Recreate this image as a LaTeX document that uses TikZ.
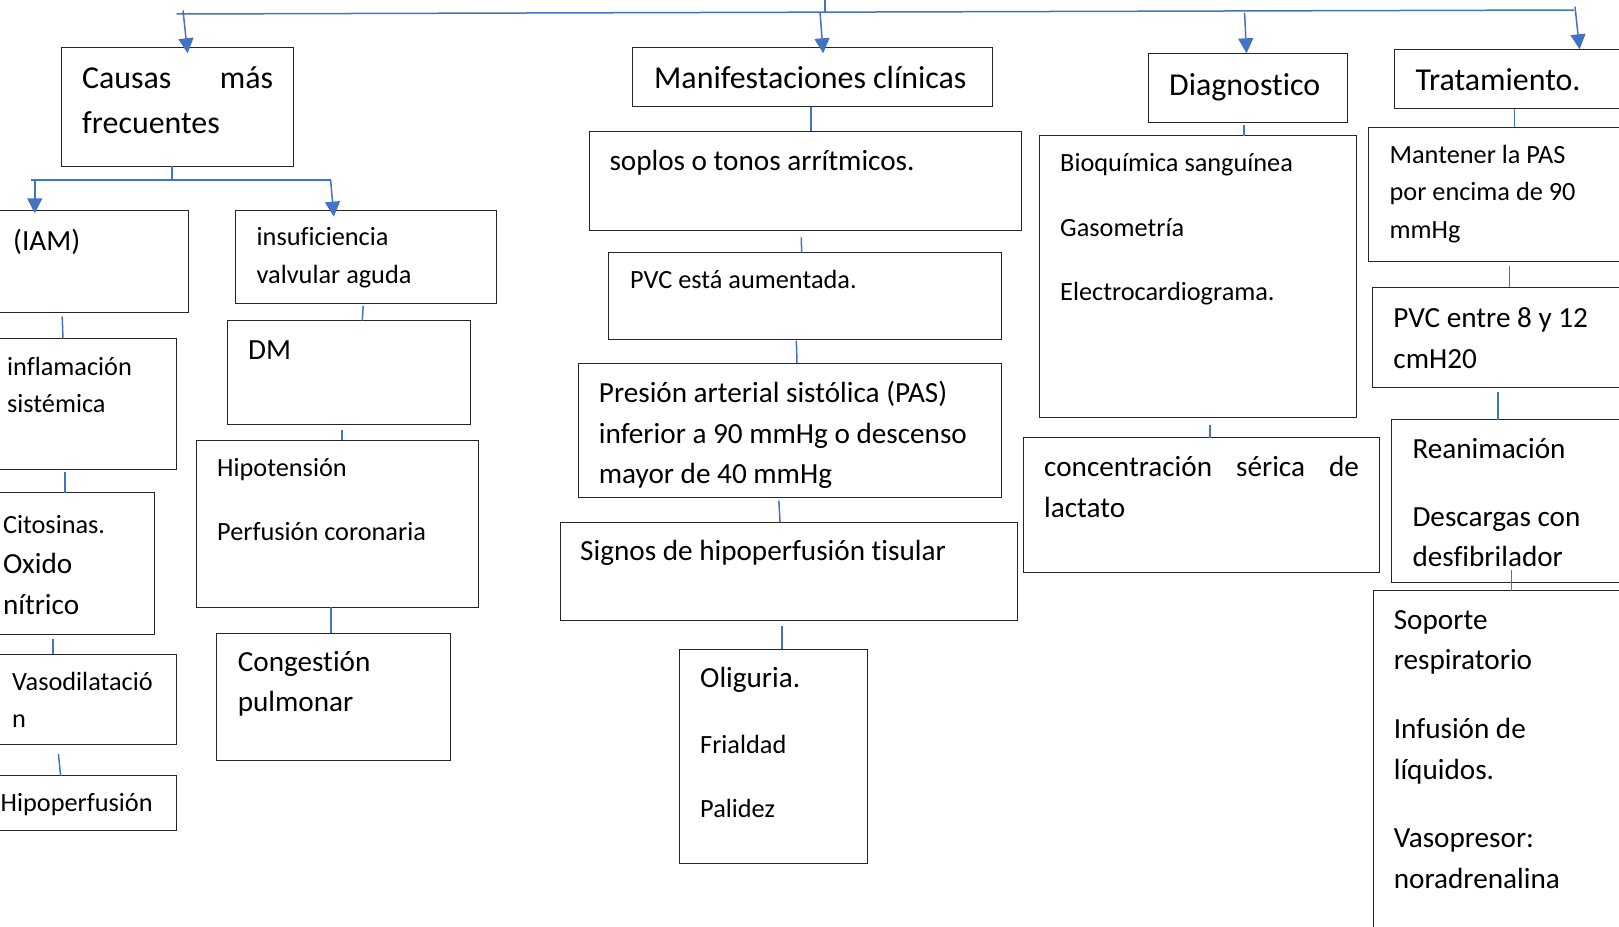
\documentclass[tikz,border=0pt]{standalone}
\usepackage{fontspec}
\setmainfont{Carlito}[Ligatures={NoCommon,NoContextual}, Contextuals={NoAlternate}]
\usetikzlibrary{arrows.meta}
\definecolor{wordblue}{RGB}{68,114,196}
\newcommand\fbig{\fontsize{31.9}{45}\selectfont}
\newcommand\fmed{\fontsize{29.2}{40.5}\selectfont}
\newcommand\fsmall{\fontsize{26.3}{37.5}\selectfont}

\begin{document}
\begin{tikzpicture}[x=1pt, y=-1pt,
    box/.style={draw=black!85, line width=1pt, anchor=north west, inner sep=0pt, outer sep=0pt},
    txt/.style={anchor=base west, align=left, inner sep=0pt},
    link/.style={draw=wordblue, line width=1.5pt, shorten <=4pt},
    arrow/.style={draw=wordblue, line width=1.5pt, -{Triangle[width=15pt,length=15pt]}}]
\clip (0,0) rectangle (1619,926);

% headings
\node[box, minimum width=232.1, minimum height=118.6] (causas) at (61.6,47.7) {};
\node[box, minimum width=359.6, minimum height=59.4] (manif) at (632.7,47.3) {};
\node[box, minimum width=199, minimum height=68.7] (diag) at (1148.3,53.3) {};
\node[box, minimum width=245.7, minimum height=59.4] (trat) at (1394.3,49.3) {};

% causas
\node[box, minimum width=198.7, minimum height=102] (iam) at (-10,210.7) {};
\node[box, minimum width=260.7, minimum height=92.6] (insuf) at (235.5,210.7) {};
\node[box, minimum width=186.7, minimum height=130.7] (inflam) at (-10,338.3) {};
\node[box, minimum width=243, minimum height=104] (dm) at (227,320.7) {};
\node[box, minimum width=282.4, minimum height=167.3] (hipot) at (196.3,440) {};
\node[box, minimum width=164.3, minimum height=141.3] (cito) at (-10,492.7) {};
\node[box, minimum width=234.2, minimum height=126.7] (cong) at (216.6,633.3) {};
\node[box, minimum width=186.7, minimum height=90.7] (vaso) at (-10,654) {};
\node[box, minimum width=186.3, minimum height=54.3] (hipop) at (-10,775.7) {};

% manifestaciones
\node[box, minimum width=432.7, minimum height=99.3] (soplos) at (589,131) {};
\node[box, minimum width=393, minimum height=86.3] (pvc) at (608.7,252.7) {};
\node[box, minimum width=423.7, minimum height=134.5] (presion) at (578,363.2) {};
\node[box, minimum width=457, minimum height=98.6] (signos) at (560.3,522) {};
\node[box, minimum width=187.3, minimum height=214.5] (olig) at (679.7,649.4) {};

% diagnostico
\node[box, minimum width=317.9, minimum height=282] (bioq) at (1039,135.7) {};
\node[box, minimum width=355.2, minimum height=134.9] (conc) at (1023.8,437.9) {};

% tratamiento
\node[box, minimum width=272, minimum height=134.7] (mant) at (1368,127) {};
\node[box, minimum width=267.8, minimum height=99.7] (pvce) at (1372.2,287.3) {};
\node[box, minimum width=248.7, minimum height=162.7] (rean) at (1391.3,419.5) {};
\node[box, minimum width=266.7, minimum height=360] (sop) at (1373.3,590.6) {};

% texts (multi-line ones sit on their last baseline)
\node[txt, font=\fbig] (t-causas) at (82,133.3) {\hbox to 191pt{Causas\hfill más}\\frecuentes};
\node[txt, font=\fbig] (t-manif) at (654,88.3) {Manifestaciones clínicas};
\node[txt, font=\fbig] (t-diag) at (1169,95) {Diagnostico};
\node[txt, font=\fbig] (t-trat) at (1415.3,90) {Tratamiento.};
\node[txt, font=\fmed] (t-iam) at (13,250) {(IAM)};
\node[txt, font=\fsmall] (t-insuf) at (256.5,283.3) {insuficiencia\\valvular aguda};
\node[txt, font=\fsmall] (t-inflam) at (6.9,412.7) {inflamación\\sistémica};
\node[txt, font=\fmed] (t-dm) at (248,359.3) {DM};
\node[txt, font=\fsmall] (t-hipot) at (217,540) {Hipotensión\\[26.5pt]Perfusión coronaria};
\node[txt, font=\fmed] (t-cito) at (2.8,614) {{\fsmall Citosinas.}\\Oxido\\nítrico};
\node[txt, font=\fmed] (t-cong) at (237.6,711.7) {Congestión\\pulmonar};
\node[txt, font=\fsmall] (t-vaso) at (12,727.7) {Vasodilatació\\n};
\node[txt, font=\fsmall] (t-hipop) at (0.5,811.7) {Hipoperfusión};
\node[txt, font=\fmed] (t-soplos) at (609.3,170) {soplos o tonos arrítmicos.};
\node[txt, font=\fsmall] (t-pvc) at (630,288.7) {PVC está aumentada.};
\node[txt, font=\fmed] (t-presion) at (598.7,483.9) {Presión arterial sistólica (PAS)\\inferior a 90 mmHg o descenso\\mayor de 40 mmHg};
\node[txt, font=\fmed] (t-signos) at (580,560.5) {Signos de hipoperfusión tisular};
\node[txt, font=\fsmall] (t-olig) at (700,817.6) {{\fmed Oliguria.}\\[28pt]Frialdad\\[27pt]Palidez};
\node[txt, font=\fsmall] (t-bioq) at (1060,300) {Bioquímica sanguínea\\[26.8pt]Gasometría\\[26.5pt]Electrocardiograma.};
\node[txt, font=\fmed] (t-conc) at (1044,517.4) {\hbox to 314.8pt{concentración\hfill sérica\hfill de}\\lactato};
\node[txt, font=\fsmall] (t-mant) at (1389.4,238.3) {Mantener la PAS\\por encima de 90\\mmHg};
\node[txt, font=\fmed] (t-pvce) at (1393.2,368.3) {PVC entre 8 y 12\\cmH20};
\node[txt, font=\fmed] (t-rean) at (1412.3,566.8) {Reanimación\\[27.5pt]Descargas con\\desfibrilador};
\node[txt, font=\fmed] (t-sop) at (1393.6,888.3) {Soporte\\respiratorio\\[28.3pt]Infusión de\\líquidos.\\[28.3pt]Vasopresor:\\noradrenalina};

% top bar and arrows
\coordinate (top-l) at (176.6,14);
\coordinate (top-r) at (1574,10);
\coordinate (top-c) at (825,-2);
\coordinate (top-m) at (825,12);
\coordinate (a-causas) at (183,10.5);
\coordinate (a-manif) at (820,12);
\coordinate (a-diag) at (1244.6,13);
\coordinate (a-trat) at (1575,6.7);
\draw[link, shorten <=0pt] (top-l) -- (top-r);
\draw[link, shorten <=0pt] (top-c) -- (top-m);
\draw[arrow, shorten >=-5.6pt] (a-causas) -- (causas.north -| 187,0);
\draw[arrow, shorten >=-6pt] (a-manif) -- (manif.north -| 822.7,0);
\draw[arrow] (a-diag) -- (diag.north -| 1246.5,0);
\draw[arrow] (a-trat) -- (trat.north -| 1579.6,0);

% causas branch
\coordinate (br-c) at (172.2,180);
\coordinate (br-l) at (31,180);
\coordinate (br-r) at (330.6,180);
\draw[link, shorten <=0pt] (causas.south -| br-c) -- (br-c);
\draw[link, shorten <=0pt] (br-l) -- (br-r);
\draw[arrow, shorten >=-2.6pt] (br-l -| 34.8,0) -- (iam.north -| 34.8,0);
\draw[arrow, shorten >=-6pt] (br-r) -- (insuf.north -| 333.3,0);

% chains
\draw[link] (iam.south -| 62,0) -- (inflam.north -| 63,0);
\draw[link, shorten <=2.7pt] (inflam.south -| 65,0) -- (cito.north -| 65,0);
\draw[link, shorten <=5.3pt] (cito.south -| 53,0) -- (vaso.north -| 53,0);
\draw[link, shorten <=9.3pt] (vaso.south -| 57.5,0) -- (hipop.north -| 60.6,0);
\draw[link, shorten <=2.7pt] (insuf.south -| 363.3,0) -- (dm.north -| 362.3,0);
\draw[link, shorten <=5.3pt] (dm.south -| 342,0) -- (hipot.north -| 342,0);
\draw[link, shorten <=0pt] (hipot.south -| 331,0) -- (cong.north -| 331,0);

\draw[link, shorten <=0pt] (manif.south -| 811,0) -- (soplos.north -| 811,0);
\draw[link, shorten <=7pt] (soplos.south -| 801,0) -- (pvc.north -| 801.7,0);
\draw[link, shorten <=1.7pt] (pvc.south -| 796.3,0) -- (presion.north -| 797,0);
\draw[link, shorten <=3pt] (presion.south -| 778.7,0) -- (signos.north -| 780,0);
\draw[link, shorten <=5.3pt] (signos.south -| 782,0) -- (olig.north -| 782,0);

\draw[link, shorten <=3pt] (diag.south -| 1243.8,0) -- (bioq.north -| 1243.8,0);
\draw[link, shorten <=7.5pt] (bioq.south -| 1209.8,0) -- (conc.north -| 1209.8,0);

\draw[link, shorten <=0pt] (trat.south -| 1514.3,0) -- (mant.north -| 1514.3,0);
\draw[link, shorten <=4.3pt] (mant.south -| 1509.3,0) -- (pvce.north -| 1509.3,0);
\draw[link, shorten <=5pt] (pvce.south -| 1497.8,0) -- (rean.north -| 1497.8,0);
\draw[link, shorten <=-12.7pt] (rean.south -| 1511.6,0) -- (sop.north -| 1511.6,0);
\end{tikzpicture}
\end{document}
